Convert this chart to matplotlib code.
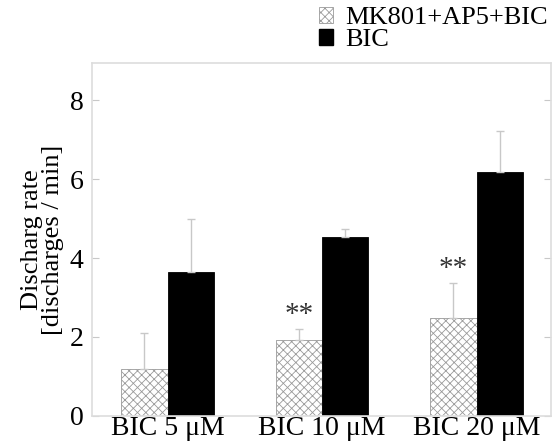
import numpy as np
import matplotlib.pyplot as plt
from matplotlib.patches import Patch

plt.rcParams['font.family'] = ['Liberation Serif', 'DejaVu Serif']
plt.rcParams['hatch.linewidth'] = 0.6

groups = ['BIC 5 μM', 'BIC 10 μM', 'BIC 20 μM']
blocked = [1.19, 1.92, 2.48]
blocked_err = [0.91, 0.28, 0.89]
bic = [3.65, 4.53, 6.18]
bic_err = [1.35, 0.20, 1.04]
stars = ['', '**', '**']

x = np.arange(len(groups))
w = 0.3

fig = plt.figure(figsize=(5.54, 4.43), dpi=100)
ax = fig.add_axes([0.166, 0.061, 0.828, 0.797])

grey = '#c8c8c8'
ax.bar(x - w / 2, blocked, w, color='white', edgecolor='#9a9a9a', hatch='xxxx', linewidth=0.6)
ax.bar(x + w / 2, bic, w, color='black', edgecolor='black', linewidth=0.6)
ax.errorbar(x - w / 2, blocked, yerr=[np.zeros(3), blocked_err], fmt='none',
            ecolor=grey, elinewidth=1, capsize=3, capthick=1)
ax.errorbar(x + w / 2, bic, yerr=[np.zeros(3), bic_err], fmt='none',
            ecolor=grey, elinewidth=1, capsize=3, capthick=1)

for i, s in enumerate(stars):
    if s:
        ax.text(x[i] - w / 2, blocked[i] + blocked_err[i] + 0.02, s,
                ha='center', va='bottom', fontsize=21, color='#333333')

ax.set_xlim(-0.49, 2.48)
ax.set_ylim(0, 8.94)
ax.set_yticks([0, 2, 4, 6, 8])
ax.set_xticks(x)
ax.set_xticklabels(groups, fontsize=20)
ax.tick_params(axis='x', length=0, pad=0)
ax.tick_params(axis='y', direction='in', length=5, color=grey, labelsize=20,
               right=True, pad=6)
for sp in ax.spines.values():
    sp.set_color('#dddddd')
    sp.set_linewidth(1.2)

ax.set_ylabel('Discharg rate\n[discharges / min]', fontsize=19, linespacing=0.95, labelpad=4)

handles = [Patch(facecolor='white', edgecolor='#9a9a9a', hatch='xxxx', linewidth=0.6),
           Patch(facecolor='black', edgecolor='black')]
fig.legend(handles, ['MK801+AP5+BIC', 'BIC'], loc='upper left',
           bbox_to_anchor=(0.556, 1.008), frameon=False, fontsize=19,
           handlelength=0.55, handleheight=0.55, handletextpad=0.45,
           labelspacing=-0.02, borderaxespad=0)

fig.savefig('out.png', dpi=100)
